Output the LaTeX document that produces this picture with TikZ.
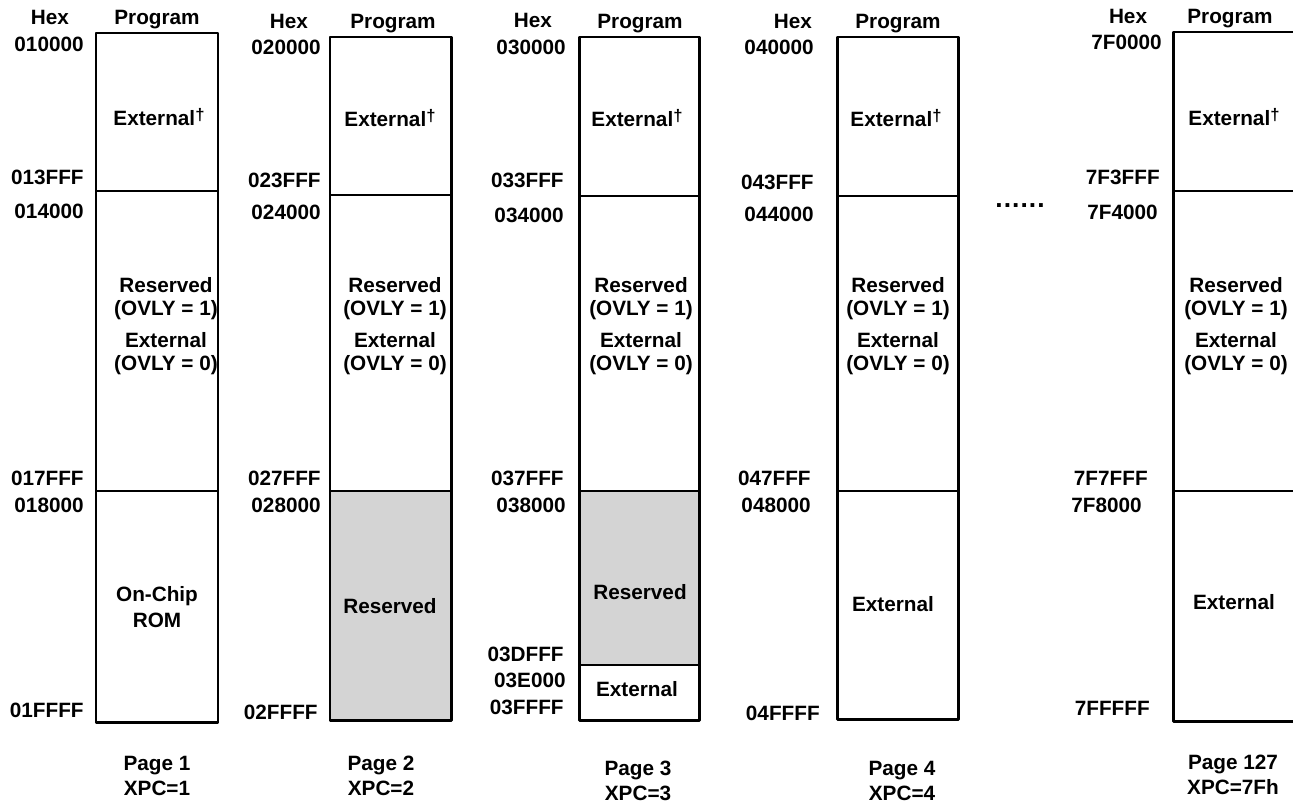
\documentclass[tikz,border=0pt]{standalone}
\usepackage{fontspec}
\setmainfont{Liberation Sans}
\usetikzlibrary{positioning}
\definecolor{resgray}{RGB}{212,212,212}
\newcommand{\dg}{\raisebox{2.4pt}{\fontsize{9.5}{9.5}\selectfont †}}

\begin{document}
\begin{tikzpicture}[x=0.02cm, y=-0.02cm, inner sep=0pt,
  font=\fontsize{11.8}{13}\selectfont\bfseries,
  frame/.style={line width=1.7pt, line join=round},
  divider/.style={line width=0.6pt},
  thickdiv/.style={line width=1pt},
  hex/.style={anchor=east},
  txt/.style={align=center}]
  \useasboundingbox (0,0) rectangle (1293,803);
  \clip (0,0) rectangle (1293,803);
  % Page 1
  \coordinate (t1) at (157,33);
  \draw[frame] (96,33) rectangle (218,722);
  \draw[divider] (96,191) -- (218,191);
  \draw[divider] (96,491) -- (218,491);
  \node[above=2pt of t1] (prog1) {Program};
  \node (hex1) at (50,17) {Hex};
  \node[hex] (a10) at (84,44) {010000};
  \node[hex] (a13) at (84,177) {013FFF};
  \node[hex] (a14) at (84,211) {014000};
  \node[hex] (a17) at (84,478) {017FFF};
  \node[hex] (a18) at (84,505) {018000};
  \node[hex] (a1f) at (84,710) {01FFFF};
  \node (ext1) at (159,117) {External\dg};
  \node[txt] (rsv1) at (166,299) {Reserved\\(OVLY = 1)};
  \node[txt] (ovl1) at (166,354) {External\\(OVLY = 0)};
  \node[txt] (rom1) at (157,607) {On-Chip\\[2pt]ROM};
  \node[txt] (pg1) at (157,776) {Page 1\\[1pt]XPC=1};
  % Page 2
  \coordinate (t2) at (393,37);
  \fill[resgray] (330,491) rectangle (451,720);
  \draw[frame] (330,37) rectangle (451,720);
  \draw[divider] (330,195) -- (451,195);
  \draw[thickdiv] (330,491) -- (451,491);
  \node[above=2pt of t2] (prog2) {Program};
  \node (hex2) at (289,21) {Hex};
  \node[hex] (a20) at (321,47) {020000};
  \node[hex] (a23) at (321,180) {023FFF};
  \node[hex] (a24) at (321,212) {024000};
  \node[hex] (a27) at (321,478) {027FFF};
  \node[hex] (a28) at (321,505) {028000};
  \node[hex] (a2f) at (318,712) {02FFFF};
  \node (ext2) at (390,118) {External\dg};
  \node[txt] (rsv2) at (395,299) {Reserved\\(OVLY = 1)};
  \node[txt] (ovl2) at (395,354) {External\\(OVLY = 0)};
  \node (res2) at (390,606) {Reserved};
  \node[txt] (pg2) at (381,776) {Page 2\\[1pt]XPC=2};
  % Page 3
  \coordinate (t3) at (640,37);
  \fill[resgray] (579,491) rectangle (699,665);
  \draw[frame] (579,37) rectangle (699,720);
  \draw[divider] (579,196) -- (699,196);
  \draw[thickdiv] (579,491) -- (699,491);
  \draw[thickdiv] (579,665) -- (699,665);
  \node[above=2pt of t3] (prog3) {Program};
  \node (hex3) at (533,20) {Hex};
  \node[hex] (a30) at (566,47) {030000};
  \node[hex] (a33) at (564,180) {033FFF};
  \node[hex] (a34) at (564,215) {034000};
  \node[hex] (a37) at (564,478) {037FFF};
  \node[hex] (a38) at (566,505) {038000};
  \node[hex] (a3d) at (564,654) {03DFFF};
  \node[hex] (a3e) at (566,680) {03E000};
  \node[hex] (a3f) at (564,707) {03FFFF};
  \node (ext3) at (637,118) {External\dg};
  \node[txt] (rsv3) at (641,299) {Reserved\\(OVLY = 1)};
  \node[txt] (ovl3) at (641,354) {External\\(OVLY = 0)};
  \node (res3) at (640,592) {Reserved};
  \node (ext3b) at (637,689) {External};
  \node[txt] (pg3) at (638,781) {Page 3\\[1pt]XPC=3};
  % Page 4
  \coordinate (t4) at (898,37);
  \draw[frame] (837,37) rectangle (958,719);
  \draw[divider] (837,196) -- (958,196);
  \draw[divider] (837,491) -- (958,491);
  \node[above=2pt of t4] (prog4) {Program};
  \node (hex4) at (793,21) {Hex};
  \node[hex] (a40) at (814,47) {040000};
  \node[hex] (a43) at (814,182) {043FFF};
  \node[hex] (a44) at (814,214) {044000};
  \node[hex] (a47) at (811,478) {047FFF};
  \node[hex] (a48) at (811,505) {048000};
  \node[hex] (a4f) at (820,713) {04FFFF};
  \node (ext4) at (896,118) {External\dg};
  \node[txt] (rsv4) at (898,299) {Reserved\\(OVLY = 1)};
  \node[txt] (ovl4) at (898,354) {External\\(OVLY = 0)};
  \node (ext4b) at (893,604) {External};
  \node[txt] (pg4) at (902,781) {Page 4\\[1pt]XPC=4};
  % dots between pages
  \node[font=\fontsize{15}{15}\selectfont\bfseries] (gap) at (1020,206)
    {.\kern0.6pt.\kern0.6pt.\kern0.6pt.\kern0.6pt.\kern0.6pt.};
  % Page 127
  \coordinate (t5) at (1230,32);
  \draw[frame] (1173,32) rectangle (1300,721);
  \draw[divider] (1173,191) -- (1300,191);
  \draw[divider] (1173,491) -- (1300,491);
  \node[above=2pt of t5] (prog5) {Program};
  \node (hex5) at (1128,16) {Hex};
  \node[hex] (a50) at (1162,42) {7F0000};
  \node[hex] (a53) at (1160,177) {7F3FFF};
  \node[hex] (a54) at (1158,212) {7F4000};
  \node[hex] (a57) at (1148,478) {7F7FFF};
  \node[hex] (a58) at (1142,505) {7F8000};
  \node[hex] (a5f) at (1150,708) {7FFFFF};
  \node (ext5) at (1234,117) {External\dg};
  \node[txt] (rsv5) at (1236,299) {Reserved\\(OVLY = 1)};
  \node[txt] (ovl5) at (1236,354) {External\\(OVLY = 0)};
  \node (ext5b) at (1234,602) {External};
  \node[txt] (pg5) at (1233,775) {Page 127\\[1pt]XPC=7Fh};
\end{tikzpicture}
\end{document}
